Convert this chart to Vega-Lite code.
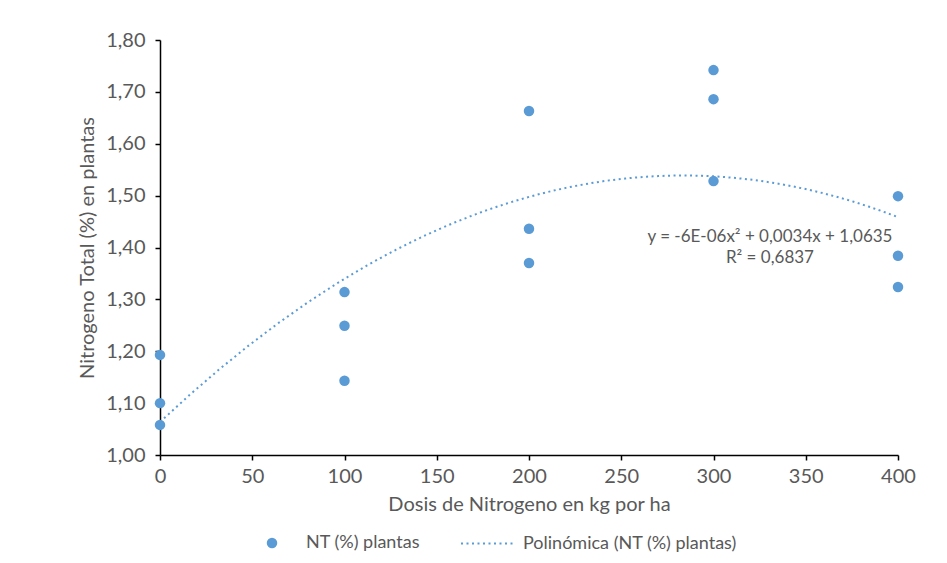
{
  "$schema": "https://vega.github.io/schema/vega-lite/v6.json",
  "width": 738,
  "height": 415,
  "autosize": {"type": "none"},
  "padding": {"left": 160, "top": 40, "right": 49, "bottom": 108},
  "background": "white",
  "config": {
    "view": {"stroke": null},
    "font": "Lato",
    "locale": {"number": {"decimal": ",", "thousands": ".", "grouping": [3], "currency": ["", ""]}},
    "axis": {
      "grid": false,
      "domainColor": "#000000",
      "domainWidth": 1.5,
      "tickColor": "#000000",
      "tickWidth": 1.5,
      "tickSize": 5,
      "labelColor": "#595959",
      "labelFontSize": 20,
      "labelFlush": false,
      "titleColor": "#595959",
      "titleFontSize": 20,
      "titleFontWeight": "normal"
    },
    "legend": {
      "labelColor": "#595959",
      "labelFontSize": 18,
      "labelLimit": 400,
      "padding": 0,
      "orient": "none",
      "direction": "horizontal"
    }
  },
  "data": {
    "values": [
      {"dosis": 0, "nt": 1.193},
      {"dosis": 0, "nt": 1.100},
      {"dosis": 0, "nt": 1.058},
      {"dosis": 100, "nt": 1.314},
      {"dosis": 100, "nt": 1.249},
      {"dosis": 100, "nt": 1.143},
      {"dosis": 200, "nt": 1.663},
      {"dosis": 200, "nt": 1.436},
      {"dosis": 200, "nt": 1.370},
      {"dosis": 300, "nt": 1.742},
      {"dosis": 300, "nt": 1.686},
      {"dosis": 300, "nt": 1.528},
      {"dosis": 400, "nt": 1.499},
      {"dosis": 400, "nt": 1.384},
      {"dosis": 400, "nt": 1.324}
    ]
  },
  "layer": [
    {
      "transform": [{"regression": "nt", "on": "dosis", "method": "poly", "order": 2, "extent": [0, 400]}],
      "mark": {"type": "line", "strokeDash": [2, 3.5], "strokeWidth": 2, "color": "#5B9BD5"},
      "encoding": {
        "x": {"field": "dosis", "type": "quantitative"},
        "y": {"field": "nt", "type": "quantitative"},
        "strokeDash": {
          "datum": "Polinómica (NT (%) plantas)",
          "type": "nominal",
          "scale": {"range": [[2, 3.5]]},
          "legend": {"title": null, "orient": "none", "legendX": 300, "legendY": 475, "symbolStrokeColor": "#5B9BD5", "symbolStrokeWidth": 2, "symbolSize": 3025, "labelOffset": 6}
        }
      }
    },
    {
      "mark": {"type": "point", "filled": true, "size": 110, "opacity": 1},
      "encoding": {
        "x": {
          "field": "dosis",
          "type": "quantitative",
          "scale": {"domain": [0, 400], "nice": false},
          "axis": {"values": [0, 50, 100, 150, 200, 250, 300, 350, 400], "title": "Dosis de Nitrogeno en kg por ha", "labelPadding": 6, "titlePadding": 8}
        },
        "y": {
          "field": "nt",
          "type": "quantitative",
          "scale": {"domain": [1, 1.8], "nice": false, "zero": false},
          "axis": {"values": [1, 1.1, 1.2, 1.3, 1.4, 1.5, 1.6, 1.7, 1.8], "format": ".2f", "title": "Nitrogeno Total (%) en plantas", "labelPadding": 10, "titlePadding": 8}
        },
        "color": {
          "datum": "NT (%) plantas",
          "type": "nominal",
          "scale": {"range": ["#5B9BD5"]},
          "legend": {"title": null, "orient": "none", "legendX": 103, "legendY": 494, "symbolType": "circle", "symbolSize": 110, "symbolOpacity": 1, "labelOffset": 25}
        }
      }
    },
    {
      "data": {
        "values": [
          {"dosis": 330.6, "nt": 1.420, "label": "y = -6E-06x² + 0,0034x + 1,0635"},
          {"dosis": 330.6, "nt": 1.380, "label": "R² = 0,6837"}
        ]
      },
      "mark": {"type": "text", "align": "center", "baseline": "middle", "fontSize": 17, "color": "#595959"},
      "encoding": {
        "x": {"field": "dosis", "type": "quantitative"},
        "y": {"field": "nt", "type": "quantitative"},
        "text": {"field": "label"}
      }
    }
  ]
}
